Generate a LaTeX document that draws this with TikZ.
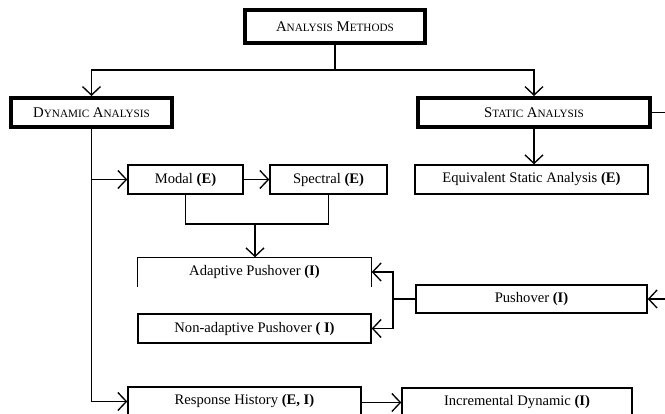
\documentclass[tikz,border=0pt]{standalone}
\usepackage{fontspec}
\setmainfont{Liberation Serif}
\usetikzlibrary{arrows.meta}
% faked small capitals for the heading boxes
\newcommand\scl[1]{{\fontsize{11.2}{13}\selectfont #1}}
\tikzset{
  thin line/.style={line width=1.35pt},
  box/.style={draw, thin line, minimum height=29pt, inner sep=0pt,
    font=\fontsize{14.6}{16}\selectfont},
  headbox/.style={box, line width=4pt, font=\fontsize{14.8}{16}\selectfont},
  arr/.style={thin line, -{Straight Barb[length=8.5pt,width=18pt]}},
  link/.style={thin line},
}
\begin{document}
\begin{tikzpicture}[x=1pt,y=-1pt]
\fill[white] (0,0) rectangle (665,413);
\useasboundingbox (0,0) rectangle (665,413);
\clip (0,0) rectangle (665,413);

% heading boxes
\node[headbox, minimum width=180pt, minimum height=33pt] (am) at (335,26.5)
  {A\scl{NALYSIS} M\scl{ETHODS}};
\node[headbox, minimum width=161pt] (dyn) at (91.5,112.5)
  {D\scl{YNAMIC} A\scl{NALYSIS}};
\node[headbox, minimum width=232pt] (sta) at (534,112.5)
  {S\scl{TATIC} A\scl{NALYSIS}};

% method boxes
\node[box, minimum width=115pt] (modal) at (185.5,179.5) {Modal \textbf{(E)}};
\node[box, minimum width=117pt] (spec) at (328.5,179.5) {Spectral \textbf{(E)}};
\node[box, minimum width=233pt] (equiv) at (531.5,179.5)
  {Equivalent Static Analysis \textbf{(E)}};
\node[box, draw=none, minimum width=233pt, minimum height=28pt] (adapt) at (254.5,272)
  {Adaptive Pushover \textbf{(I)}};
\draw[thin line] (adapt.south west) -- (adapt.north west) -- (adapt.north east) -- (adapt.south east);
\node[box, minimum width=233pt] (nonad) at (254.5,328.5)
  {Non-adaptive Pushover \textbf{( I)}};
\node[box, minimum width=231pt, minimum height=28pt] (push) at (531.5,299)
  {Pushover \textbf{(I)}};
\node[box, minimum width=233pt] (resp) at (244.5,401.5)
  {Response History \textbf{(E, I)}};
\node[box, minimum width=230pt] (incr) at (517,402.5)
  {Incremental Dynamic \textbf{(I)}};

% junction points
\coordinate (split) at (335,70);
\coordinate (staout) at (665,112.5);
\coordinate (pushin) at (665,299);
\coordinate (merge) at (255,224);
\coordinate (fork) at (393,299);

% top level split
\draw[link] (am.south) -- (split);
\draw[arr] (split) -| (dyn.north);
\draw[arr] (split) -| (sta.north);
\draw[link] (sta.east) -- (staout);
\draw[arr] (sta.south) -- (sta.south |- equiv.north);

% dynamic branch trunk
\draw[arr] (dyn.south) |- (resp.west);
\draw[arr] (dyn.south |- modal.west) -- (modal.west);
\draw[arr] (modal.east) -- (spec.west);
\draw[arr] (resp.east |- incr.west) -- (incr.west);

% modal and spectral merge into adaptive pushover
\draw[link] (modal.south) |- (merge) -| (spec.south);
\draw[arr] (merge) -- (merge |- adapt.north);

% pushover fork
\draw[arr] (pushin) -- (push.east);
\draw[link] (push.west) -- (fork);
\draw[arr] (fork) |- (adapt.east);
\draw[arr] (fork) |- (nonad.east);
\end{tikzpicture}
\end{document}
